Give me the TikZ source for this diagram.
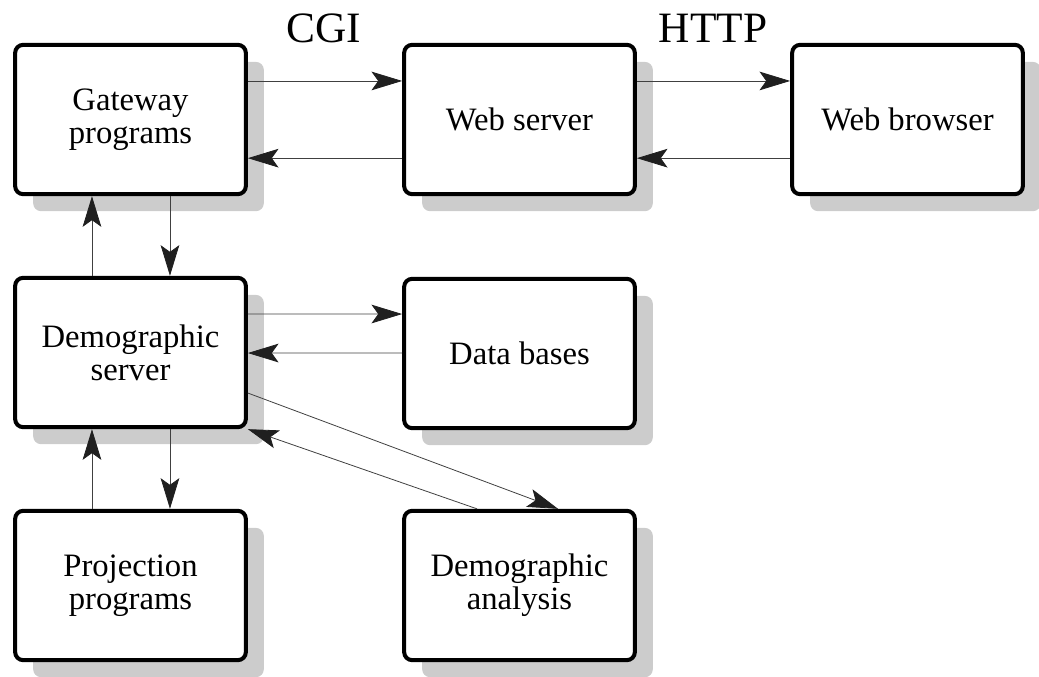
\documentclass[tikz,border=0pt]{standalone}
\usepackage{fontspec}
\setmainfont{Liberation Serif}
\usepackage{tikz}
\usetikzlibrary{arrows.meta, shadows}

\tikzset{
  box/.style={draw=black, line width=3pt, rounded corners=6pt, fill=white,
    minimum width=173pt, minimum height=112pt, align=center,
    font=\fontsize{24.5}{25}\selectfont,
    drop shadow={shadow xshift=13.5pt, shadow yshift=-12.8pt, fill=black!20, opacity=1}},
  link/.style={draw=black!75, line width=0.6pt,
    -{Stealth[length=23pt, width=14pt, inset=5pt, color=black!88]}},
  proto/.style={font=\fontsize{32.5}{34}\selectfont, anchor=base}
}

\begin{document}
\begin{tikzpicture}[x=0.75pt,y=-0.75pt]
\useasboundingbox (0,0) rectangle (1039,677);

% top row
\node[box] (gw) at (130.5,119.5) {Gateway\\programs};
\node[box] (ws) at (519.5,119.5) {Web server};
\node[box] (wb) at (907.5,119.5) {Web browser};

% middle row
\node[box] (ds) at (130.5,352.5) {Demographic\\server};
\node[box] (db) at (519.5,353.5) {Data bases};

% bottom row
\node[box] (pp) at (130.5,585.5) {Projection\\programs};
\node[box] (da) at (519.5,585.5) {Demographic\\analysis};

\node[proto] (cgi) at (324,43) {CGI};
\node[proto] (http) at (713,43) {HTTP};

\draw[link] ([yshift=28.9pt]gw.east) -- ([yshift=28.9pt]ws.west);
\draw[link] ([yshift=-29pt]ws.west) -- ([yshift=-29pt]gw.east);
\draw[link] ([yshift=28.9pt]ws.east) -- ([yshift=28.9pt]wb.west);
\draw[link] ([yshift=-29pt]wb.west) -- ([yshift=-29pt]ws.east);

\draw[link] ([xshift=-28.9pt]ds.north) -- ([xshift=-28.9pt]gw.south);
\draw[link] ([xshift=29.6pt]gw.south) -- ([xshift=29.6pt]ds.north);
\draw[link] ([xshift=-28.9pt]pp.north) -- ([xshift=-28.9pt]ds.south);
\draw[link] ([xshift=29.6pt]ds.south) -- ([xshift=29.6pt]pp.north);

\draw[link] ([yshift=28.9pt]ds.east) -- ([yshift=29.6pt]db.west);
\draw[link] ([yshift=0.3pt]db.west) -- ([yshift=-0.4pt]ds.east);

\draw[link] ([yshift=-30.4pt]ds.east) -- ([xshift=28.9pt]da.north);
\draw[link] ([xshift=-31.9pt]da.north) -- (ds.south east);
\end{tikzpicture}
\end{document}
